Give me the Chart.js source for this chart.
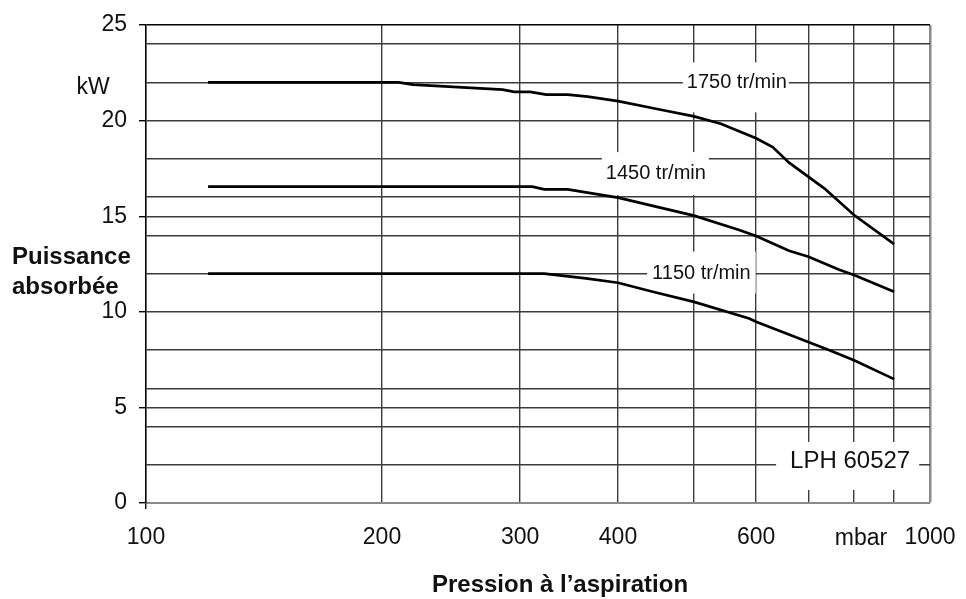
<!DOCTYPE html>
<html>
<head>
<meta charset="utf-8">
<script src="https://cdn.jsdelivr.net/npm/chart.js@4.4.1/dist/chart.umd.min.js"></script>
<style>
  html, body { margin: 0; padding: 0; background: #fff; }
  #wrap { width: 966px; height: 599px; }
</style>
</head>
<body>
<div id="wrap"><canvas id="graf" width="966" height="599"></canvas></div>
<script>
// Pression à l'aspiration (mbar) -> puissance absorbée (kW)
const pression1750 = [120, 210, 219, 285, 295, 309, 324, 345, 366, 400, 452, 500, 541, 600, 630, 661, 733, 800, 900];
const puissance1750 = [22.0, 22.0, 21.88, 21.62, 21.5, 21.5, 21.36, 21.36, 21.25, 21.02, 20.58, 20.22, 19.84, 19.08, 18.62, 17.8, 16.46, 15.06, 13.54];

const pression1450 = [120, 311, 322, 345, 400, 500, 571, 600, 661, 700, 766, 800, 900];
const puissance1450 = [16.55, 16.55, 16.4, 16.4, 15.97, 15.03, 14.28, 13.96, 13.19, 12.88, 12.2, 11.92, 11.05];

const pression1150 = [120, 322, 364, 400, 443, 500, 588, 600, 743, 800, 900];
const puissance1150 = [12.0, 12.0, 11.75, 11.52, 11.05, 10.52, 9.65, 9.48, 8.0, 7.47, 6.48];

const vitesses = ['1750 tr/min', '1450 tr/min', '1150 tr/min'];

const xTicks = [100, 200, 300, 400, 500, 600, 700, 800, 900, 1000];
const xTickLabels = ['100', '200', '300', '400', '', '600', '', '', '', '1000'];
const yTicks = [0, 2, 4, 5, 6, 8, 10, 12, 14, 15, 16, 18, 20, 22, 24, 25];
const yTickLabels = ['0', '', '', '5', '', '', '10', '', '', '15', '', '', '20', '', '', '25'];

const police = '"Liberation Sans", Arial, sans-serif';

// étiquettes posées sur la grille (position en valeurs d'axe)
const etiquettes = [
  { texte: vitesses[0], p: 567, kw: 22.0, font: '20px ' + police, h: 50, dy: 5, padG: 4, padD: 2 },
  { texte: vitesses[1], p: 447, kw: 17.23, font: '20px ' + police, h: 43, dy: 0, padG: 4, padD: 3 },
  { texte: vitesses[2], p: 511, kw: 12.0, font: '20px ' + police, h: 42, dy: -1, padG: 5, padD: 5 },
  { texte: 'LPH 60527', p: 791, kw: 2.2, font: '24px ' + police, h: 48, dy: 5, padG: 14, padD: 9 }
];

function points(px, py) {
  return px.map((v, i) => ({ x: v, y: py[i] }));
}

const decor = {
  id: 'decor',
  beforeDatasetsDraw(chart) {
    const { ctx, scales: { x, y } } = chart;
    ctx.save();
    etiquettes.forEach(e => {
      ctx.font = e.font;
      const w = ctx.measureText(e.texte).width;
      const cx = x.getPixelForValue(e.p);
      const cy = y.getPixelForValue(e.kw);
      ctx.fillStyle = '#fff';
      ctx.fillRect(cx - w / 2 - e.padG, cy - e.h / 2 + e.dy, w + e.padG + e.padD, e.h);
      ctx.fillStyle = '#111';
      ctx.textAlign = 'center';
      ctx.textBaseline = 'middle';
      ctx.fillText(e.texte, cx, cy);
    });
    ctx.restore();
  },
  afterDraw(chart) {
    const ctx = chart.ctx;
    ctx.save();
    ctx.fillStyle = '#111';
    ctx.textBaseline = 'middle';
    ctx.font = '23px ' + police;
    ctx.textAlign = 'center';
    ctx.fillText('kW', 93, 88);
    ctx.fillText('mbar', 861, 539);
    ctx.font = 'bold 24px ' + police;
    ctx.textAlign = 'left';
    ctx.fillText('Puissance', 12, 257);
    ctx.fillText('absorbée', 12, 287);
    ctx.textAlign = 'center';
    ctx.fillText('Pression à l\u2019aspiration', 560, 585);
    ctx.restore();
  }
};

const styleCourbe = {
  borderColor: '#000',
  borderWidth: 2.7,
  pointRadius: 0,
  tension: 0,
  fill: false
};

new Chart(document.getElementById('graf').getContext('2d'), {
  type: 'line',
  data: {
    datasets: [
      { label: vitesses[0], data: points(pression1750, puissance1750), ...styleCourbe },
      { label: vitesses[1], data: points(pression1450, puissance1450), ...styleCourbe },
      { label: vitesses[2], data: points(pression1150, puissance1150), ...styleCourbe }
    ]
  },
  options: {
    responsive: false,
    animation: false,
    devicePixelRatio: 1,
    layout: { padding: { top: 25, right: 36, left: 0, bottom: 0 } },
    plugins: { legend: { display: false }, tooltip: { enabled: false } },
    scales: {
      x: {
        type: 'logarithmic',
        min: 100,
        max: 1000,
        afterBuildTicks: (s) => { s.ticks = xTicks.map(v => ({ value: v })); },
        afterFit: (s) => { s.height = 96; s.paddingRight = 0; s.paddingLeft = 0; },
        ticks: {
          autoSkip: false,
          maxRotation: 0,
          padding: 15,
          color: '#111',
          font: { family: police, size: 23 },
          callback: (v) => xTickLabels[xTicks.indexOf(v)] ?? ''
        },
        grid: {
          color: (c) => {
            const v = c.tick && c.tick.value;
            if (v === 100) return 'rgba(0,0,0,0)';
            if (v === 1000) return '#8a8a8a';
            return '#3c3c3c';
          },
          lineWidth: (c) => (c.tick && c.tick.value === 1000 ? 2.5 : 1.4),
          tickLength: 6,
          tickColor: (c) => (c.tick && c.tick.value === 100 ? '#000' : 'rgba(0,0,0,0)')
        },
        border: { color: '#8a8a8a', width: 2 }
      },
      y: {
        min: 0,
        max: 25,
        afterBuildTicks: (s) => { s.ticks = yTicks.map(v => ({ value: v })); },
        afterFit: (s) => { s.width = 146; s.paddingTop = 0; s.paddingBottom = 0; },
        ticks: {
          autoSkip: false,
          padding: 12,
          color: '#111',
          font: { family: police, size: 23 },
          callback: (v) => yTickLabels[yTicks.indexOf(v)] ?? ''
        },
        grid: {
          color: (c) => (c.tick && c.tick.value === 25 ? '#000' : '#3c3c3c'),
          lineWidth: 1.4,
          tickLength: 7,
          tickColor: (c) => (c.tick && c.tick.value % 5 === 0 ? '#000' : 'rgba(0,0,0,0)')
        },
        border: { color: '#000', width: 1.6 }
      }
    }
  },
  plugins: [decor]
});
</script>
</body>
</html>
